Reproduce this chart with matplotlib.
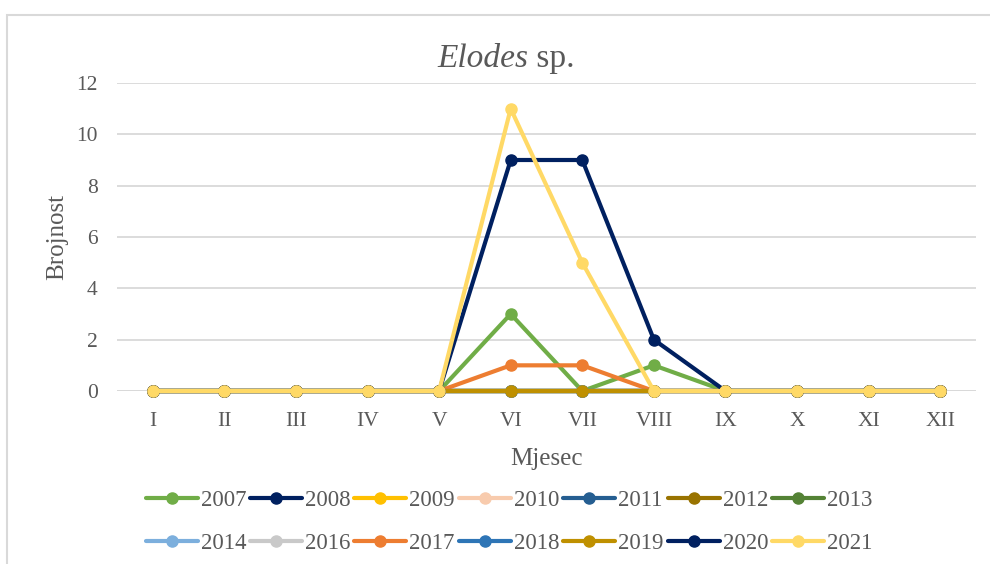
import matplotlib.pyplot as plt
from matplotlib.patches import Rectangle

months = ['I', 'II', 'III', 'IV', 'V', 'VI', 'VII', 'VIII', 'IX', 'X', 'XI', 'XII']

years = ['2007', '2008', '2009', '2010', '2011', '2012', '2013',
         '2014', '2016', '2017', '2018', '2019', '2020', '2021']

colors = ['#70ad47', '#002060', '#ffc000', '#f8cbad', '#255e91', '#997300', '#548235',
          '#7cafdd', '#c9c9c9', '#ed7d31', '#2e75b6', '#bf9000', '#002060', '#ffd966']

zero = [0] * 12
y2007 = [0, 0, 0, 0, 0, 3, 0, 1, 0, 0, 0, 0]
y2017 = [0, 0, 0, 0, 0, 1, 1, 0, 0, 0, 0, 0]
y2020 = [0, 0, 0, 0, 0, 9, 9, 2, 0, 0, 0, 0]
y2021 = [0, 0, 0, 0, 0, 11, 5, 0, 0, 0, 0, 0]

values = {y: zero for y in years}
values['2007'] = y2007
values['2017'] = y2017
values['2020'] = y2020
values['2021'] = y2021

plt.rcParams['font.family'] = ['Liberation Serif', 'DejaVu Serif']
txt = '#595959'

fig = plt.figure(figsize=(9.9, 5.64), dpi=100)
ax = fig.add_axes([117 / 990, 1 - 391 / 564, (976 - 117) / 990, (391 - 83) / 564])

x = list(range(len(months)))
for yr, col in zip(years, colors):
    ax.plot(x, values[yr], color=col, lw=3, marker='o', ms=8, label=yr,
            solid_capstyle='round', zorder=3, clip_on=False)

ax.set_xlim(-0.5, 11.5)
ax.set_ylim(0, 12)
ax.set_yticks(range(0, 13, 2))
ax.set_xticks(x)
ax.set_xticklabels(months)
ax.tick_params(length=0, labelsize=15.5, colors=txt)
ax.tick_params(axis='x', pad=15)
ax.tick_params(axis='y', pad=14)
ax.yaxis.grid(True, color='#d9d9d9', lw=1.3)
ax.set_axisbelow(True)
for s in ax.spines.values():
    s.set_visible(False)
ax.axhline(0, color='#d9d9d9', lw=1.3, zorder=1)

ax.set_ylabel('Brojnost', fontsize=18, color=txt, labelpad=6)
ax.set_xlabel('Mjesec', fontsize=18, color=txt, labelpad=12)

# title: italic genus + upright "sp."
ty = 1 - 59 / 564
t1 = fig.text(0, ty, 'Elodes', fontsize=24, style='italic', color=txt, ha='left', va='center')
t2 = fig.text(0, ty, ' sp.', fontsize=24, color=txt, ha='left', va='center')
fig.canvas.draw()
r = fig.canvas.get_renderer()
w1 = t1.get_window_extent(r).width
w2 = t2.get_window_extent(r).width
x0 = 506 - (w1 + w2) / 2
t1.set_x(x0 / 990)
t2.set_x((x0 + w1) / 990)

# legend filled row by row
h, l = ax.get_legend_handles_labels()
order = [i + 7 * k for i in range(7) for k in range(2)]
leg = fig.legend([h[i] for i in order], [l[i] for i in order],
                 loc='center', bbox_to_anchor=(509 / 990, 1 - 522 / 564), ncol=7, frameon=False,
                 fontsize=16.5, handlelength=2.27, columnspacing=0.17, handletextpad=0.13,
                 labelspacing=0.95, labelcolor=txt)

fig.patches.append(Rectangle((7 / 990, -0.1), 1.1, 1 - 15 / 564 + 0.1, transform=fig.transFigure,
                             fill=False, edgecolor='#d9d9d9', lw=1.5))

fig.savefig('out.png', dpi=100)
